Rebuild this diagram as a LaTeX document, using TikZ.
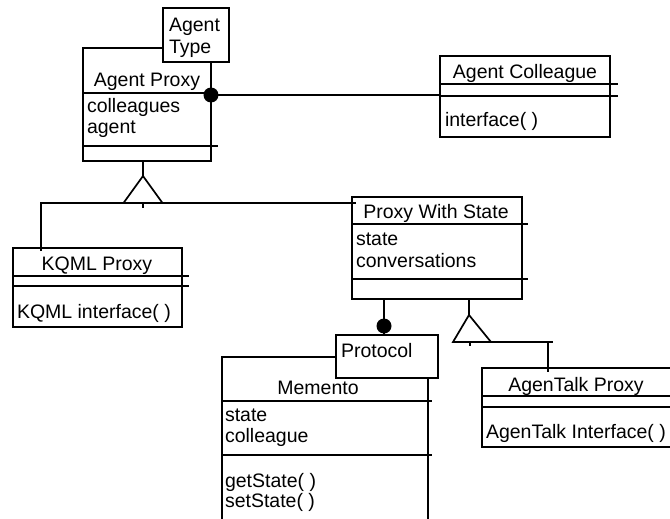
\documentclass[tikz,border=0pt]{standalone}
\usepackage{fontspec}
\setmainfont{Liberation Sans}
\usetikzlibrary{calc}
\newcommand\umlfont{\fontsize{19.5}{22}\selectfont}
\tikzset{
  cls/.style={draw, line width=1.7pt, inner sep=0pt, outer sep=0pt, anchor=north west, fill=white},
  txt/.style={inner sep=0pt, outer sep=0pt, anchor=base west, font=\umlfont},
  ctxt/.style={inner sep=0pt, outer sep=0pt, anchor=base, font=\umlfont},
  ln/.style={line width=1.7pt},
}
\begin{document}
\begin{tikzpicture}[x=1pt,y=-1pt]
\useasboundingbox (0,0) rectangle (670,519);
\begin{scope}
\clip (0,0) rectangle (670,519);
% Agent Proxy + Agent Type
\node[cls, minimum width=128pt, minimum height=113pt] (ap) at (83,48) {};
\draw[ln] (83,93) -- (217,93) (83,146) -- (218,146);
\node[cls, minimum width=66pt, minimum height=54pt] (atype) at (163,8) {};
\node[txt] (t1) at (169,32) {Agent};
\node[txt] (t2) at (169,54) {Type};
\node[ctxt] (t3) at (147,87) {Agent Proxy};
\node[txt] (t4) at (87,113) {colleagues};
\node[txt] (t5) at (87,133) {agent};
% Agent Colleague
\node[cls, minimum width=170pt, minimum height=81pt] (ac) at (440,56) {};
\draw[ln] (440,84) -- (618,84) (440,96) -- (618,96);
\node[ctxt] (t6) at (525,79) {Agent Colleague};
\node[txt] (t7) at (445,127) {interface( )};
% KQML Proxy
\node[cls, minimum width=169pt, minimum height=79pt] (kq) at (13,248) {};
\draw[ln] (13,276) -- (189,276) (13,286) -- (189,286);
\node[ctxt] (t8) at (97,270) {KQML Proxy};
\node[txt] (t9) at (17,318) {KQML interface( )};
% Proxy With State
\node[cls, minimum width=170pt, minimum height=102pt] (pws) at (352,197) {};
\draw[ln] (352,224) -- (528,224) (352,279) -- (528,279);
\node[ctxt] (t10) at (436,218) {Proxy With State};
\node[txt] (t11) at (356,245) {state};
\node[txt] (t12) at (356,267) {conversations};
% Memento + Protocol
\node[cls, minimum width=206pt, minimum height=200pt] (mem) at (222,357) {};
\draw[ln] (222,401) -- (432,401) (222,455) -- (432,455);
\node[cls, minimum width=102pt, minimum height=43pt] (pr) at (336,335) {};
\node[txt] (t13) at (341,357) {Protocol};
\node[ctxt] (t14) at (318,394) {Memento};
\node[txt] (t15) at (225,421) {state};
\node[txt] (t16) at (225,442) {colleague};
\node[txt] (t17) at (225,487) {getState( )};
\node[txt] (t18) at (225,507) {setState( )};
% AgenTalk Proxy
\node[cls, minimum width=200pt, minimum height=79pt] (atp) at (482,368) {};
\draw[ln] (482,396) -- (682,396) (482,407) -- (682,407);
\node[ctxt] (t19) at (576,391) {AgenTalk Proxy};
\node[txt] (t20) at (486,438) {AgenTalk Interface( )};
\end{scope}
% association Agent Proxy -- Agent Colleague
\coordinate (apR) at (211,95);
\draw[ln] (apR) -- (apR -| ac.west);
\fill (apR) circle (7.5pt);
% generalization 1
\coordinate (g1top) at (143,161);
\coordinate (g1apex) at (143,176);
\coordinate (g1base) at (143,203);
\draw[ln] (g1top) -- (g1apex);
\draw[ln, line join=miter] (g1apex) -- ++(-19.5,27) -- ++(39,0) -- cycle;
\draw[ln] (g1base) -- ++(0,5);
\draw[ln] ($(kq.north west -| 41,0)+(0,3)$) |- ($(pws.north west)+(4,6)$);
% aggregation Proxy With State -- Protocol
\coordinate (dtop) at (pws.south west -| 384,0);
\draw[ln] (dtop) -- (dtop |- pr.north);
\fill (384,326) circle (7.5pt);
% generalization 2
\coordinate (g2top) at (pws.south west -| 469,0);
\coordinate (g2apex) at (469,315);
\draw[ln] (g2top) -- (g2apex);
\draw[ln, line join=miter] (g2apex) -- ++(-16,27) -- ++(38,0) -- cycle;
\draw[ln] (469,342) -- (553,342);
\draw[ln] (470,342) -- ++(0,4);
\draw[ln] (548,342) -- ($(atp.north west -| 548,0)+(0,4)$);
\end{tikzpicture}
\end{document}
